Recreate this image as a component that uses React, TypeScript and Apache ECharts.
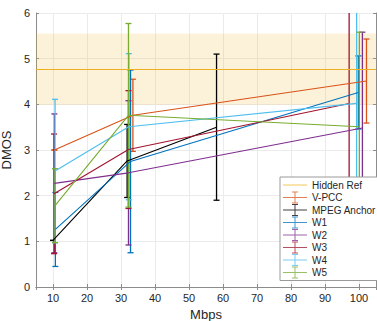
import React, { useEffect, useRef } from "react";
import * as echarts from "echarts";

// ---- data ----
const hiddenRefMean = 4.76;
const hiddenRefLow = 3.99;
const hiddenRefHigh = 5.55;

const seriesNames = ["V-PCC", "MPEG Anchor", "W1", "W2", "W3", "W4", "W5"];
const seriesColors = ["#D95319", "#000000", "#0072BD", "#7E2F8E", "#A2142F", "#4DBEEE", "#77AC30"];

const vpccX = [10.4, 33.5, 102.2];
const vpccY = [3.0, 3.76, 4.51];
const vpccErr = [0, 0.79, 0.92];

const anchorX = [10.0, 31.8, 58.1];
const anchorY = [1.02, 2.76, 3.5];
const anchorErr = [0, 0.8, 1.6];

const w1X = [10.7, 32.8, 99.8];
const w1Y = [1.26, 2.75, 4.26];
const w1Err = [0.81, 2.0, 0.8];

const w2X = [10.4, 32.2, 101.0];
const w2Y = [2.27, 2.5, 3.48];
const w2Err = [1.52, 1.58, 2.1];

const w3X = [10.3, 32.2, 97.1];
const w3Y = [2.04, 3.01, 4.02];
const w3Err = [1.31, 1.29, 2.6];

const w4X = [10.6, 32.3, 99.3];
const w4Y = [2.54, 3.51, 4.02];
const w4Err = [1.57, 1.6, 2.6];

const w5X = [10.6, 32.2, 100.1];
const w5Y = [1.78, 3.76, 3.51];
const w5Err = [0.81, 2.01, 2.07];

const xs = [vpccX, anchorX, w1X, w2X, w3X, w4X, w5X];
const ys = [vpccY, anchorY, w1Y, w2Y, w3Y, w4Y, w5Y];
const errs = [vpccErr, anchorErr, w1Err, w2Err, w3Err, w4Err, w5Err];

const FONT = "Liberation Sans, Arial, Helvetica, sans-serif";
const TXT = "#262626";

const ebIcon = "path://M0,6.5H24V7.5H0Z M11.5,1H12.5V13H11.5Z M9,1H15V2H9Z M9,12H15V13H9Z";
const lineIcon = "path://M0,1L0,1 M0,6.5H24V7.5H0Z M0,13L0,13";

export default function App() {
  const ref = useRef<HTMLDivElement>(null);
  useEffect(() => {
    document.body.style.margin = "0";
    const chart = echarts.init(ref.current!, null, { renderer: "svg" });

    const series: any[] = [
      {
        type: "line",
        name: "Hidden Ref",
        data: [],
        itemStyle: { color: "#EDB120" },
        lineStyle: { color: "#EDB120", width: 1.1 },
        markLine: {
          silent: true,
          symbol: "none",
          label: { show: false },
          lineStyle: { color: "#EDB120", width: 1.1, type: "solid" },
          data: [{ yAxis: hiddenRefMean }],
        },
        markArea: {
          silent: true,
          itemStyle: { color: "rgba(237,177,32,0.17)" },
          data: [[{ yAxis: hiddenRefLow }, { yAxis: hiddenRefHigh }]],
        },
      },
    ];

    seriesNames.forEach((name, k) => {
      const color = seriesColors[k];
      series.push({
        type: "line",
        name,
        data: xs[k].map((x, i) => [x, ys[k][i]]),
        showSymbol: false,
        symbol: "none",
        itemStyle: { color },
        lineStyle: { color, width: 1.1 },
      });
      series.push({
        type: "custom",
        name,
        clip: true,
        itemStyle: { color },
        encode: { x: 0, y: [1, 2] },
        data: xs[k].map((x, i) => [x, ys[k][i] - errs[k][i], ys[k][i] + errs[k][i]]),
        renderItem: (params: any, api: any) => {
          const x = api.value(0);
          const p1 = api.coord([x, api.value(1)]);
          const p2 = api.coord([x, api.value(2)]);
          const hw = 3;
          const style = { stroke: color, lineWidth: 1.3, fill: "none" };
          return {
            type: "group",
            children: [
              { type: "line", shape: { x1: p1[0], y1: p1[1], x2: p2[0], y2: p2[1] }, style },
              { type: "line", shape: { x1: p1[0] - hw, y1: p1[1], x2: p1[0] + hw, y2: p1[1] }, style },
              { type: "line", shape: { x1: p2[0] - hw, y1: p2[1], x2: p2[0] + hw, y2: p2[1] }, style },
            ],
          };
        },
      });
    });

    const axisLine = { show: true, lineStyle: { color: "#8c8c8c", width: 1 } };
    const tick = { show: true, inside: true, length: 3, lineStyle: { color: "#8c8c8c" } };

    chart.setOption({
      animation: false,
      grid: { left: 36, right: 1, top: 13, bottom: 34, outerBoundsMode: "none", containLabel: false },
      legend: {
        orient: "vertical",
        left: 280,
        top: 177,
        z: 10,
        backgroundColor: "#ffffff",
        borderColor: "#9a9a9a",
        borderWidth: 1,
        borderRadius: 0,
        padding: [2, 3, 2, 3],
        itemGap: 0.5,
        itemWidth: 24,
        itemHeight: 12,
        itemTextGap: 2,
        itemStyle: { borderWidth: 0, opacity: 0.75 },
        textStyle: { fontFamily: FONT, fontSize: 10, color: TXT },
        selectedMode: false,
        data: [
          { name: "Hidden Ref", icon: lineIcon },
          ...seriesNames.map((n) => ({ name: n, icon: ebIcon })),
        ],
      },
      xAxis: [
        {
          type: "value",
          min: 5,
          max: 105,
          splitNumber: 10,
          name: "Mbps",
          nameLocation: "middle",
          nameGap: 18,
          nameTextStyle: { fontFamily: FONT, fontSize: 13, color: TXT },
          axisLine,
          axisTick: tick,
          axisLabel: {
            fontFamily: FONT,
            fontSize: 11,
            color: TXT,
            margin: 5,
            showMinLabel: false,
            showMaxLabel: false,
          },
          splitLine: { show: true, lineStyle: { color: "#ebebeb", width: 1 } },
        },
        {
          type: "value",
          position: "top",
          min: 5,
          max: 105,
          splitNumber: 10,
          axisLine,
          axisTick: tick,
          axisLabel: { show: false },
          splitLine: { show: false },
        },
      ],
      yAxis: [
        {
          type: "value",
          min: 0,
          max: 6,
          interval: 1,
          name: "DMOS",
          nameLocation: "middle",
          nameGap: 14,
          nameTextStyle: { fontFamily: FONT, fontSize: 13, color: TXT },
          axisLine,
          axisTick: tick,
          axisLabel: { fontFamily: FONT, fontSize: 11, color: TXT, margin: 6 },
          splitLine: { show: true, lineStyle: { color: "#ebebeb", width: 1 } },
        },
        {
          type: "value",
          position: "right",
          min: 0,
          max: 6,
          interval: 1,
          axisLine,
          axisTick: tick,
          axisLabel: { show: false },
          splitLine: { show: false },
        },
      ],
      series,
    });
    return () => chart.dispose();
  }, []);
  return <div ref={ref} style={{ width: 377, height: 321 }} />;
}
